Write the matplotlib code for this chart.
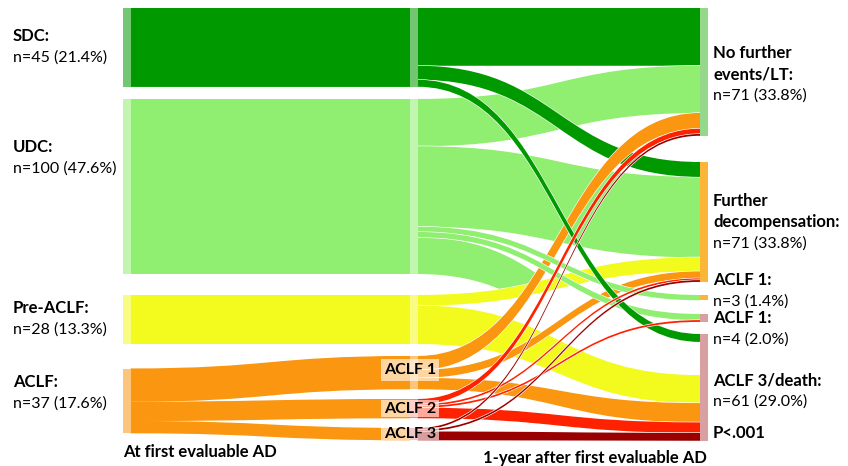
import numpy as np
import matplotlib
matplotlib.use("Agg")
import matplotlib.pyplot as plt
from matplotlib.path import Path
from matplotlib.patches import PathPatch, Rectangle
from matplotlib.colors import to_rgb

plt.rcParams['font.family'] = ['Lato', 'DejaVu Sans']

# ---------------- data ----------------
# status at first evaluable AD
first_names = ["SDC:", "UDC:", "Pre-ACLF:", "ACLF:"]
first_n = [45, 100, 28, 37]
first_pct = [21.4, 47.6, 13.3, 17.6]

# ACLF split by grade at first AD
grade_names = ["ACLF 1", "ACLF 2", "ACLF 3"]
grade_n = [19, 11, 7]

# outcome 1 year later
end_names = [["No further", "events/LT:"], ["Further", "decompensation:"],
             ["ACLF 1:"], ["ACLF 1:"], ["ACLF 3/death:"]]
end_n = [71, 71, 3, 4, 61]
end_pct = [33.8, 33.8, 1.4, 2.0, 29.0]
p_text = "P<.001"

# flows middle column (0 SDC, 1 UDC, 2 Pre-ACLF, 3-5 ACLF 1-3) -> outcome (0..4)
flow_src = [0, 0, 0, 1, 1, 1, 1, 1, 2, 2, 3, 3, 3, 4, 4, 4, 4, 5, 5, 5]
flow_dst = [0, 1, 4, 0, 1, 2, 3, 4, 1, 4, 0, 1, 4, 0, 1, 3, 4, 0, 1, 4]
flow_start = [33, 8, 4, 27, 46, 3, 3, 21, 6, 22, 8, 4.5, 6.5, 3, 1, 1, 6, 1, 1, 5]
flow_end = [33, 8.5, 4.5, 27, 46, 3, 3.5, 19, 8, 16, 9, 4, 11, 3, 1, 1, 6, 1, 1, 4.5]

# ---------------- style / layout ----------------
mid_colors = ["#009a00", "#90ee70", "#f2fa1e", "#fa960f", "#ff2200", "#9b0000"]
end_colors = ["#95d88c", "#fbb537", "#fbb537", "#d9a0a2", "#d9a0a2"]
draw_order = [0, 3, 4, 7, 1, 8, 9, 10, 11, 12, 5, 6, 2, 13, 14, 15, 16, 17, 18, 19]

SCALE = 1.75   # px per patient
TOP_PX = 8
FS = 11.5
FS_B = 12


def py(px):
    return (px - TOP_PX) / SCALE


def tint(c, f=0.45):
    r, g, b = to_rgb(c)
    return (r + (1 - r) * f, g + (1 - g) * f, b + (1 - b) * f)


X_LEFT, X_MID, X_END, BAR_W = 123, 410, 700, 7.5
first_top = [py(8), py(99), py(295), py(368.5)]
mid_top = [py(8), py(99), py(295), py(356), py(399), py(428)]
end_top = [py(8), py(162), py(295), py(314), py(334)]


def ribbon_path(x0, x1, a0, b0, a1, b1):
    xm = (x0 + x1) / 2
    verts = [(x0, a0), (xm, a0), (xm, a1), (x1, a1), (x1, b1),
             (xm, b1), (xm, b0), (x0, b0), (x0, a0)]
    codes = [Path.MOVETO, Path.CURVE4, Path.CURVE4, Path.CURVE4, Path.LINETO,
             Path.CURVE4, Path.CURVE4, Path.CURVE4, Path.CLOSEPOLY]
    return Path(verts, codes)


def draw_ribbon(ax, path, color, z, clip=None, edge=0.9):
    for ec, lw, zz in [("white", edge, z), ("none", 0, z + 0.5)]:
        p = PathPatch(path, facecolor=color, edgecolor=ec, lw=lw, zorder=zz)
        ax.add_patch(p)
        if clip is not None:
            p.set_clip_path(clip)


fig = plt.figure(figsize=(8.48, 4.66), dpi=100)
ax = fig.add_axes([0, 0, 1, 1])
ax.set_xlim(0, 848)
ax.set_ylim(py(466), py(0))
ax.axis("off")

# ---- first AD -> middle column ----
for i in range(3):
    path = ribbon_path(X_LEFT + BAR_W, X_MID, first_top[i], first_top[i] + first_n[i],
                       mid_top[i], mid_top[i] + first_n[i])
    draw_ribbon(ax, path, mid_colors[i], 1, edge=0)
y = first_top[3]
for g in range(3):
    path = ribbon_path(X_LEFT + BAR_W, X_MID, y, y + grade_n[g],
                       mid_top[3 + g], mid_top[3 + g] + grade_n[g])
    draw_ribbon(ax, path, mid_colors[3], 1.1, edge=0.6)
    y += grade_n[g]

# ---- middle column -> 1 year ----
n_flows = len(flow_src)
y0 = [0.0] * n_flows
y1 = [0.0] * n_flows
cur = list(mid_top)
for i in sorted(range(n_flows), key=lambda i: (flow_src[i], flow_dst[i])):
    y0[i] = cur[flow_src[i]]
    cur[flow_src[i]] += flow_start[i]
cur = list(end_top)
for i in sorted(range(n_flows), key=lambda i: (flow_dst[i], flow_src[i])):
    y1[i] = cur[flow_dst[i]]
    cur[flow_dst[i]] += flow_end[i]
end_height = [cur[k] - end_top[k] for k in range(len(end_top))]

# the UDC -> ACLF 3/death band only shows up to the orange ACLF 1 band
xa, xb = X_MID + BAR_W, X_END
t = np.linspace(0, 1, 80)
xm = (xa + xb) / 2
ex = (1 - t) ** 3 * xa + 3 * (1 - t) ** 2 * t * xm + 3 * (1 - t) * t ** 2 * xm + t ** 3 * xb
ey = ((1 - t) ** 3 + 3 * (1 - t) ** 2 * t) * (y0[10] + flow_start[10] / 2) + \
     (3 * (1 - t) * t ** 2 + t ** 3) * (y1[10] + flow_end[10] / 2)
clip_verts = [(X_MID, py(520))] + list(zip(ex, ey)) + [(X_END + 60, py(-60)), (X_MID, py(-60)), (X_MID, py(520))]
clip_patch = PathPatch(Path(clip_verts), transform=ax.transData)

for k, i in enumerate(draw_order):
    path = ribbon_path(xa, xb, y0[i], y0[i] + flow_start[i], y1[i], y1[i] + flow_end[i])
    draw_ribbon(ax, path, mid_colors[flow_src[i]], 3 + k, clip=clip_patch if i == 7 else None)

# ---- node bars ----
for i in range(4):
    ax.add_patch(Rectangle((X_LEFT, first_top[i]), BAR_W, first_n[i],
                           facecolor=tint(mid_colors[i]), lw=0, zorder=40))
mid_n = first_n[:3] + grade_n
for i in range(6):
    ax.add_patch(Rectangle((X_MID, mid_top[i]), BAR_W, mid_n[i],
                           facecolor=tint(mid_colors[i]), lw=0, zorder=40))
for k in range(5):
    ax.add_patch(Rectangle((X_END, end_top[k]), BAR_W, end_height[k],
                           facecolor=end_colors[k], lw=0, zorder=40))

# ---- ACLF grade boxes ----
box_px = [(359, 381), (400, 417), (427, 440)]
for g in range(3):
    top, bot = box_px[g]
    ax.add_patch(Rectangle((381, py(top)), 58, py(bot) - py(top),
                           facecolor="white", alpha=0.62, lw=0, zorder=50))
    ax.text(410, py((top + bot) / 2 + 0.5), grade_names[g], fontsize=FS, fontweight="bold",
            ha="center", va="center", zorder=51)

# ---- labels ----
first_label_px = [36, 147, 308, 382]
for i in range(4):
    ax.text(13, py(first_label_px[i]), first_names[i], fontsize=FS_B, fontweight="bold", va="center")
    ax.text(13, py(first_label_px[i] + 21.5), f"n={first_n[i]} ({first_pct[i]:.1f}%)",
            fontsize=FS, va="center")

end_label_px = [53, 201, 280, 318, 380]
for k in range(5):
    yy = end_label_px[k]
    for line in end_names[k]:
        ax.text(713, py(yy), line, fontsize=FS_B, fontweight="bold", va="center")
        yy += 21.5
    ax.text(713, py(yy), f"n={end_n[k]} ({end_pct[k]:.1f}%)", fontsize=FS, va="center")
ax.text(713, py(433), p_text, fontsize=FS_B, fontweight="bold", va="center")

ax.text(X_LEFT, py(452), "At first evaluable AD", fontsize=FS_B, fontweight="bold", va="center")
ax.text(483, py(458), "1-year after first evaluable AD", fontsize=FS_B, fontweight="bold", va="center")

fig.savefig("out.png", dpi=100)
